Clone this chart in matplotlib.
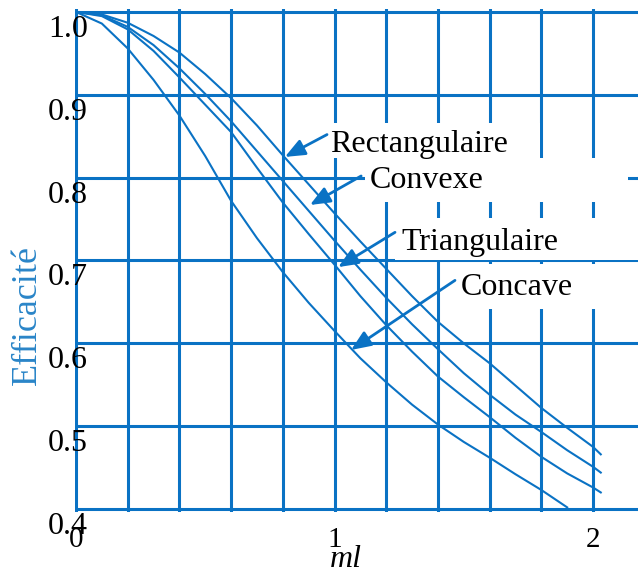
import numpy as np
import matplotlib.pyplot as plt
import matplotlib.transforms as mtransforms
from matplotlib.patches import Rectangle

plt.rcParams['font.family'] = ['Liberation Serif', 'DejaVu Serif']

# valeurs (efficacite des ailettes en fonction de ml)
ml = [0, 0.1, 0.2, 0.3, 0.4, 0.5, 0.6, 0.7, 0.8, 0.9, 1.0, 1.1, 1.2, 1.3,
      1.4, 1.5, 1.6, 1.7, 1.8, 1.9, 2.0, 2.03]
eff_rect = [1.0, 0.997, 0.987, 0.971, 0.951, 0.925, 0.896, 0.863, 0.827, 0.792,
            0.757, 0.723, 0.690, 0.657, 0.626, 0.600, 0.576, 0.549, 0.522, 0.498,
            0.475, 0.466]
eff_convex = [1.0, 0.996, 0.982, 0.960, 0.932, 0.901, 0.868, 0.832, 0.796, 0.760,
              0.724, 0.689, 0.655, 0.623, 0.593, 0.564, 0.538, 0.514, 0.493, 0.471,
              0.451, 0.444]
eff_triang = [1.0, 0.995, 0.979, 0.953, 0.921, 0.888, 0.855, 0.812, 0.770, 0.732,
              0.695, 0.657, 0.622, 0.590, 0.560, 0.535, 0.511, 0.486, 0.463, 0.443,
              0.426, 0.420]
ml_conc = [0, 0.1, 0.2, 0.3, 0.4, 0.5, 0.6, 0.7, 0.8, 0.9, 1.0, 1.1, 1.2, 1.3,
           1.4, 1.5, 1.6, 1.7, 1.8, 1.9]
eff_concave = [1.0, 0.986, 0.956, 0.918, 0.875, 0.826, 0.772, 0.727, 0.686, 0.649,
               0.615, 0.582, 0.553, 0.526, 0.502, 0.481, 0.462, 0.442, 0.423, 0.402]

yticks = [0.4, 0.5, 0.6, 0.7, 0.8, 0.9, 1.0]
ytick_labels = ['0.4', '0.5', '0.6', '0.7', '0.8', '0.9', '1.0']
xticks = [0, 1, 2]
xtick_labels = ['0', '1', '2']

# etiquettes: texte, position du texte, queue et pointe de la fleche, cache blanc
labels = ['Rectangulaire', 'Convexe', 'Triangulaire', 'Concave']
text_pos = [(0.983, 0.831), (1.137, 0.787), (1.257, 0.713), (1.489, 0.658)]
arrow_tail = [(0.971, 0.852), (1.103, 0.802), (1.234, 0.734), (1.466, 0.676)]
arrow_head = [(0.808, 0.825), (0.905, 0.767), (1.014, 0.692), (1.064, 0.592)]
mask_boxes = [(0.975, 0.824, 0.820, 0.042), (1.118, 0.771, 1.017, 0.053),
              (1.234, 0.701, 0.97, 0.050), (1.466, 0.641, 0.75, 0.055)]

blue = '#0a72c4'

fig = plt.figure(figsize=(6.38, 5.71), dpi=100)
ax = fig.add_axes([0.1171, 0.1042, 0.8829, 0.8792])
ax.set_xlim(-0.005, 2.174)
ax.set_ylim(0.397, 1.003)

for s in ax.spines.values():
    s.set_visible(False)

ax.set_xticks(xticks, xtick_labels)
ax.set_xticks(np.arange(0.2, 2.01, 0.2), minor=True)
ax.set_yticks(yticks, ytick_labels)
ax.tick_params(which='both', length=0)
ax.tick_params(axis='x', pad=11, labelsize=21)
ax.tick_params(axis='y', pad=-9.5, labelsize=23)
ax.grid(which='both', color=blue, lw=2.2, zorder=0)
ax.set_axisbelow(True)

# decaler les etiquettes de y vers le bas
off = mtransforms.ScaledTranslation(0, -14 / 100, fig.dpi_scale_trans)
for lab in ax.get_yticklabels():
    lab.set_transform(lab.get_transform() + off)

for (bx, by, bw, bh) in mask_boxes:
    ax.add_patch(Rectangle((bx, by), bw, bh, facecolor='white', edgecolor='none',
                           zorder=1, clip_on=True))

ax.plot(ml, eff_rect, color=blue, lw=1.5, zorder=2)
ax.plot(ml, eff_convex, color=blue, lw=1.5, zorder=2)
ax.plot(ml, eff_triang, color=blue, lw=1.5, zorder=2)
ax.plot(ml_conc, eff_concave, color=blue, lw=1.5, zorder=2)

for lab, tp, tail, head in zip(labels, text_pos, arrow_tail, arrow_head):
    ax.annotate('', xy=head, xytext=tail, zorder=3,
                arrowprops=dict(arrowstyle='-|>,head_length=0.6,head_width=0.25',
                                color=blue, lw=2, mutation_scale=20,
                                shrinkA=0, shrinkB=0))
    ax.text(tp[0], tp[1], lab, fontsize=23, ha='left', va='baseline', zorder=4)

ax.set_xlabel('ml', fontsize=23, style='italic')
ax.xaxis.set_label_coords(0.4816, -0.066)
ax.set_ylabel('Efficacité', fontsize=26, color='#2a85c8', va='center')
ax.yaxis.set_label_coords(-0.0847, 0.391)

fig.savefig('out.png', dpi=100)
